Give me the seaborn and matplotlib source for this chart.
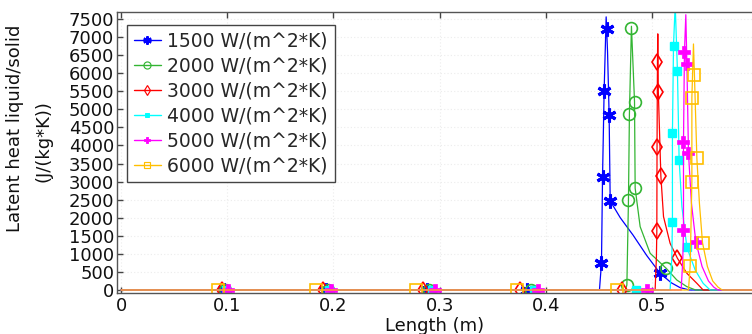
import matplotlib
matplotlib.use("Agg")
import matplotlib.pyplot as plt
from matplotlib.lines import Line2D
import numpy as np
import pandas as pd
import seaborn as sns

# ---------------- data ----------------
labels = ["1500 W/(m^2*K)", "2000 W/(m^2*K)", "3000 W/(m^2*K)",
          "4000 W/(m^2*K)", "5000 W/(m^2*K)", "6000 W/(m^2*K)"]
colors = ["#0000ff", "#33b533", "#ff0000", "#00ffff", "#ff00ff", "#ffbf00"]

# curve points (Length in m, latent heat in J/(kg*K))
x1500 = [0.0, 0.4504, 0.4523, 0.4533, 0.4548, 0.4567, 0.4580, 0.4595, 0.4605, 0.470, 0.482, 0.495, 0.5075, 0.518, 0.526, 0.535, 0.60]
y1500 = [0, 0, 756, 3139, 5521, 7560, 6600, 4848, 2465, 2000, 1520, 950, 462, 200, 70, 0, 0]

x2000 = [0.0, 0.4749, 0.4762, 0.4777, 0.4786, 0.4805, 0.4834, 0.4840, 0.4887, 0.4981, 0.5132, 0.5232, 0.5327, 0.541, 0.60]
y2000 = [0, 0, 139, 2493, 4875, 7300, 5216, 2817, 1754, 1016, 601, 277, 92, 0, 0]

x3000 = [0.0, 0.5028, 0.5040, 0.5044, 0.5046, 0.5050, 0.5053, 0.5058, 0.5082, 0.5107, 0.5169, 0.5238, 0.5327, 0.5421, 0.548, 0.60]
y3000 = [0, 0, 900, 1634, 3970, 6307, 7090, 5494, 3158, 2030, 1293, 878, 462, 185, 0, 0]

x4000 = [0.0, 0.5169, 0.5185, 0.5191, 0.5191, 0.5201, 0.5217, 0.5238, 0.5254, 0.528, 0.5327, 0.5405, 0.548, 0.5546, 0.60]
y4000 = [0, 0, 900, 1892, 4340, 6767, 7900, 6066, 3601, 2308, 1183, 554, 185, 0, 0]

x5000 = [0.0, 0.5273, 0.5288, 0.5295, 0.5295, 0.5304, 0.5317, 0.5327, 0.5342, 0.537, 0.5411, 0.547, 0.553, 0.558, 0.562, 0.60]
y5000 = [0, 0, 800, 1662, 4091, 6584, 7620, 6252, 3786, 2400, 1338, 650, 250, 80, 0, 0]

x6000 = [0.0, 0.5342, 0.5358, 0.5374, 0.5374, 0.5389, 0.5398, 0.5421, 0.5445, 0.5474, 0.552, 0.557, 0.562, 0.566, 0.60]
y6000 = [0, 0, 673, 3000, 5327, 6810, 5955, 3648, 2400, 1310, 650, 250, 80, 0, 0]

# marker points
mx1500 = [0.097, 0.193, 0.288, 0.3826, 0.4523, 0.4533, 0.4548, 0.4573, 0.4595, 0.4605, 0.5075]
my1500 = [0, 0, 0, 0, 756, 3139, 5521, 7221, 4848, 2465, 462]
mx2000 = [0.098, 0.195, 0.290, 0.386, 0.4762, 0.4777, 0.4786, 0.4802, 0.4834, 0.4840, 0.5132]
my2000 = [0, 0, 0, 0, 139, 2493, 4875, 7249, 5216, 2817, 601]
mx3000 = [0.095, 0.190, 0.284, 0.3757, 0.4714, 0.5044, 0.5046, 0.5050, 0.5058, 0.5082, 0.5238]
my3000 = [0, 0, 0, 0, 0, 1634, 3970, 6307, 5494, 3158, 878]
mx4000 = [0.099, 0.196, 0.293, 0.389, 0.485, 0.5191, 0.5191, 0.5201, 0.5238, 0.5254, 0.5327]
my4000 = [0, 0, 0, 0, 0, 1892, 4340, 6767, 6066, 3601, 1183]
mx5000 = [0.101, 0.198, 0.296, 0.3927, 0.495, 0.5295, 0.5295, 0.5304, 0.5327, 0.5342, 0.5411]
my5000 = [0, 0, 0, 0, 0, 1662, 4091, 6584, 6252, 3786, 1338]
mx6000 = [0.0917, 0.184, 0.278, 0.3725, 0.4667, 0.5358, 0.5374, 0.5374, 0.5398, 0.5421, 0.5474]
my6000 = [0, 0, 0, 0, 0, 673, 3000, 5327, 5955, 3648, 1310]

xticks = [0, 0.1, 0.2, 0.3, 0.4, 0.5]
yticks = list(range(0, 7501, 500))

curves = [(x1500, y1500), (x2000, y2000), (x3000, y3000),
          (x4000, y4000), (x5000, y5000), (x6000, y6000)]
marks = [(mx1500, my1500), (mx2000, my2000), (mx3000, my3000),
         (mx4000, my4000), (mx5000, my5000), (mx6000, my6000)]

# ---------------- style ----------------
sns.set_theme(style="white")
plt.rcParams["font.family"] = ["DejaVu Sans"]

marker_styles = [
    dict(marker=(6, 2, 0), markersize=10, mew=2.2, mfc="none"),
    dict(marker="o", markersize=8.5, mew=1.2, mfc="none"),
    dict(marker="d", markersize=8.5, mew=1.2, mfc="none"),
    dict(marker="s", markersize=5.5, mew=1.0, mfc=None),
    dict(marker="P", markersize=8, mew=0.5, mfc=None),
    dict(marker="s", markersize=8, mew=1.2, mfc="none"),
]

fig = plt.figure(figsize=(7.52, 3.34), dpi=100)
ax = fig.add_axes([117 / 752, 1 - 293 / 334, 1 - 117 / 752, (293 - 12) / 334])

for i, ((cx, cy), (mx, my)) in enumerate(zip(curves, marks)):
    df = pd.DataFrame({"x": cx, "y": cy})
    sns.lineplot(data=df, x="x", y="y", ax=ax, color=colors[i], linewidth=0.9,
                 sort=False, estimator=None, legend=False)
    st = dict(marker_styles[i])
    mfc = st.pop("mfc")
    ax.plot(mx, my, linestyle="none", color=colors[i],
            markerfacecolor=(colors[i] if mfc is None else "none"),
            markeredgecolor=colors[i], **st)

ax.set_xlim(-0.0038, 0.594)
ax.set_ylim(-83, 7695)
ax.set_xticks(xticks)
ax.set_xticklabels(["0", "0.1", "0.2", "0.3", "0.4", "0.5"])
ax.set_yticks(yticks)
ax.tick_params(axis="both", direction="in", length=4, width=1, colors="#444444",
               labelcolor="#111111", labelsize=13, top=True, right=False,
               left=True, bottom=True, pad=3)
ax.tick_params(axis="y", pad=2)
for s in ax.spines.values():
    s.set_color("#555555")
    s.set_linewidth(1.0)
ax.spines["right"].set_visible(False)
ax.grid(True, color="#ececec", linestyle=(0, (1, 2)), linewidth=0.8)
ax.set_axisbelow(True)

ax.set_xlabel("Length (m)", fontsize=13, labelpad=1, color="#111111")
ax.set_ylabel("Latent heat liquid/solid", fontsize=13, color="#111111")
ax.yaxis.set_label_coords(-0.147, (293 - 128) / 281)
fig.text(44 / 752, 1 - 141 / 334, "(J/(kg*K))", rotation=90, fontsize=13,
         ha="center", va="center", color="#111111")

handles = []
for i in range(6):
    st = dict(marker_styles[i])
    mfc = st.pop("mfc")
    ms = st.pop("markersize")
    mew = st.pop("mew")
    handles.append(Line2D([0], [0], color=colors[i], linewidth=1.0,
                          markersize=ms * 0.6, markeredgewidth=max(mew * 0.7, 0.6),
                          markerfacecolor=(colors[i] if mfc is None else "none"),
                          markeredgecolor=colors[i], **st))
leg = ax.legend(handles, labels, loc="upper left", bbox_to_anchor=(0.016, 0.955),
                fontsize=13.5, frameon=True, fancybox=False, framealpha=1,
                edgecolor="#444444", handlelength=1.45, handletextpad=0.35,
                labelspacing=0.32, borderpad=0.35, borderaxespad=0.0)
leg.get_frame().set_linewidth(1.0)

fig.savefig("out.png", dpi=100)
